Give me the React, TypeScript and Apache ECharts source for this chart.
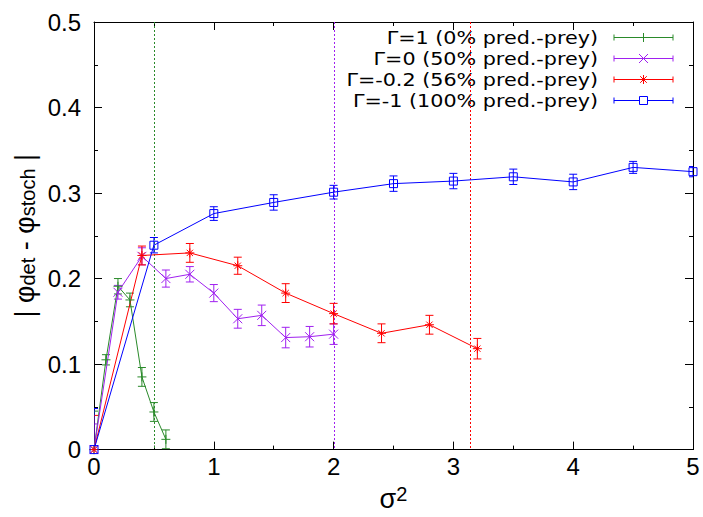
import React, { useEffect, useRef } from "react";
import * as echarts from "echarts";

const xGreen = [0, 0.1, 0.2, 0.3, 0.4, 0.5, 0.6];
const yGreen = [0, 0.105, 0.191, 0.175, 0.085, 0.044, 0.012];
const eGreen = [0.045, 0.006, 0.009, 0.008, 0.011, 0.011, 0.011];

const xPurple = [0, 0.2, 0.4, 0.6, 0.8, 1.0, 1.2, 1.4, 1.6, 1.8, 2.0];
const yPurple = [0, 0.184, 0.226, 0.2, 0.205, 0.183, 0.153, 0.157, 0.131, 0.132, 0.135];
const ePurple = [0.03, 0.008, 0.01, 0.01, 0.009, 0.01, 0.011, 0.012, 0.012, 0.012, 0.012];

const xRed = [0, 0.4, 0.8, 1.2, 1.6, 2.0, 2.4, 2.8, 3.2];
const yRed = [0, 0.227, 0.23, 0.215, 0.183, 0.159, 0.136, 0.146, 0.118];
const eRed = [0.04, 0.011, 0.011, 0.01, 0.011, 0.012, 0.011, 0.011, 0.012];

const xBlue = [0, 0.5, 1, 1.5, 2, 2.5, 3, 3.5, 4, 4.5, 5];
const yBlue = [0, 0.239, 0.276, 0.289, 0.301, 0.311, 0.314, 0.319, 0.313, 0.33, 0.325];
const eBlue = [0.048, 0.009, 0.008, 0.009, 0.008, 0.009, 0.009, 0.009, 0.009, 0.007, 0.006];

const legendNames = [
  "Γ=1 (0% pred.-prey)",
  "Γ=0 (50% pred.-prey)",
  "Γ=-0.2 (56% pred.-prey)",
  "Γ=-1 (100% pred.-prey)",
];
const vLines = [0.5, 2.0, 3.14];

const COLORS = ["#2a8a2a", "#a020f0", "#ff0000", "#0000ff"];
const PLUS = "path://M0,5L10,5M5,0L5,10";
const CROSS = "path://M0,0L10,10M10,0L0,10";
const STAR = "path://M0,5L10,5M5,0L5,10M1.5,1.5L8.5,8.5M8.5,1.5L1.5,8.5";
const SQUARE = "path://M0,0L10,0L10,10L0,10Z";
const SYMBOLS = [PLUS, CROSS, STAR, SQUARE];

const seriesData = [
  { x: xGreen, y: yGreen, e: eGreen },
  { x: xPurple, y: yPurple, e: ePurple },
  { x: xRed, y: yRed, e: eRed },
  { x: xBlue, y: yBlue, e: eBlue },
];

function legendMarker(i: number, cx: number, cy: number, c: string) {
  const s = 4.5;
  const ln = (x1: number, y1: number, x2: number, y2: number) => ({
    type: "line",
    shape: { x1, y1, x2, y2 },
    style: { stroke: c, lineWidth: 1 },
  });
  if (i === 0) return [ln(cx, cy - s, cx, cy + s)];
  if (i === 1) return [ln(cx - s, cy - s, cx + s, cy + s), ln(cx + s, cy - s, cx - s, cy + s)];
  if (i === 2)
    return [
      ln(cx - s, cy, cx + s, cy),
      ln(cx, cy - s, cx, cy + s),
      ln(cx - 3.3, cy - 3.3, cx + 3.3, cy + 3.3),
      ln(cx + 3.3, cy - 3.3, cx - 3.3, cy + 3.3),
    ];
  return [
    {
      type: "rect",
      shape: { x: cx - 4, y: cy - 4, width: 8, height: 8 },
      style: { stroke: c, fill: "#fff", lineWidth: 1 },
    },
  ];
}

export default function App() {
  const ref = useRef<HTMLDivElement>(null);
  useEffect(() => {
    if (!ref.current) return;
    const chart = echarts.init(ref.current, undefined, { renderer: "svg" });
    const font = "Liberation Sans";

    const series: any[] = [];
    // vertical dotted reference lines
    series.push({
      type: "custom",
      clip: true,
      z: 1,
      silent: true,
      data: vLines.map((v, k) => [v, k]),
      encode: { x: 0 },
      renderItem: (params: any, api: any) => {
        const v = api.value(0);
        const k = api.value(1);
        const top = api.coord([v, 0.5]);
        const bot = api.coord([v, 0]);
        const px = Math.round(top[0]) + 0.5;
        return {
          type: "line",
          shape: { x1: px, y1: top[1], x2: px, y2: bot[1] },
          style: { stroke: COLORS[k], lineWidth: 1, lineDash: [2, 2] },
        };
      },
    });
    seriesData.forEach((sd, i) => {
      const c = COLORS[i];
      series.push({
        type: "line",
        name: legendNames[i],
        data: sd.x.map((x, k) => [x, sd.y[k]]),
        symbol: SYMBOLS[i],
        symbolSize: i === 3 ? 8 : 9,
        showSymbol: true,
        lineStyle: { color: c, width: 1 },
        itemStyle: { color: i === 3 ? "rgba(255,255,255,0)" : c, borderColor: c, borderWidth: 1 },
        z: 3,
        clip: true,
      });
      series.push({
        type: "custom",
        clip: true,
        z: 2,
        data: sd.x.map((x, k) => [x, sd.y[k], sd.e[k]]),
        encode: { x: 0, y: 1 },
        renderItem: (params: any, api: any) => {
          const x = api.value(0);
          const y = api.value(1);
          const e = api.value(2);
          const top = api.coord([x, y + e]);
          const bot = api.coord([x, y - e]);
          const w = 4;
          const st = { stroke: c, lineWidth: 1 };
          return {
            type: "group",
            children: [
              { type: "line", shape: { x1: top[0], y1: top[1], x2: bot[0], y2: bot[1] }, style: st },
              { type: "line", shape: { x1: top[0] - w, y1: top[1], x2: top[0] + w, y2: top[1] }, style: st },
              { type: "line", shape: { x1: bot[0] - w, y1: bot[1], x2: bot[0] + w, y2: bot[1] }, style: st },
            ],
          };
        },
      });
    });

    const graphic: any[] = [];
    const rowY = [37.5, 58.5, 79.5, 100.5];
    legendNames.forEach((n, i) => {
      const c = COLORS[i];
      const y = rowY[i];
      graphic.push({
        type: "text",
        x: 598,
        y,
        scaleX: 1.15,
        style: {
          text: n,
          font: "18px 'DejaVu Sans'",
          lineHeight: 18,
          fill: "#000",
          align: "right",
          verticalAlign: "middle",
        },
      });
      graphic.push({ type: "line", shape: { x1: 614, y1: y, x2: 673, y2: y }, style: { stroke: c, lineWidth: 1 } });
      graphic.push({ type: "line", shape: { x1: 614, y1: y - 3, x2: 614, y2: y + 3 }, style: { stroke: c, lineWidth: 1 } });
      graphic.push({ type: "line", shape: { x1: 673, y1: y - 3, x2: 673, y2: y + 3 }, style: { stroke: c, lineWidth: 1 } });
      legendMarker(i, 643.5, y, c).forEach((g) => graphic.push(g));
    });

    const tickStyle = { lineStyle: { color: "#000", width: 1 } };
    chart.setOption({
      animation: false,
      backgroundColor: "#fff",
      grid: { left: 94, right: 10, top: 22, bottom: 57, containLabel: false },
      xAxis: [
        {
          type: "value",
          min: 0,
          max: 5,
          interval: 1,
          position: "bottom",
          axisLine: { show: true, onZero: false, lineStyle: { color: "#000", width: 1 } },
          axisTick: { show: true, inside: true, length: 8, ...tickStyle },
          minorTick: { show: true, splitNumber: 2, length: 4, ...tickStyle },
          splitLine: { show: false },
          axisLabel: { color: "#000", fontFamily: font, fontSize: 24, margin: 5 },
          name: "{a|σ}{s|2}",
          nameLocation: "middle",
          nameGap: 22,
          nameTextStyle: {
            rich: {
              a: { fontFamily: font, fontSize: 27, color: "#000" },
              s: { fontFamily: font, fontSize: 20, color: "#000", verticalAlign: "top", padding: [0, 0, 10, 0] },
            },
          },
        },
        {
          type: "value",
          min: 0,
          max: 5,
          interval: 1,
          position: "top",
          axisLine: { show: true, onZero: false, lineStyle: { color: "#000", width: 1 } },
          axisTick: { show: true, inside: true, length: 8, ...tickStyle },
          minorTick: { show: true, splitNumber: 2, length: 4, ...tickStyle },
          splitLine: { show: false },
          axisLabel: { show: false },
        },
      ],
      yAxis: [
        {
          type: "value",
          min: 0,
          max: 0.5,
          interval: 0.1,
          position: "left",
          axisLine: { show: true, onZero: false, lineStyle: { color: "#000", width: 1 } },
          axisTick: { show: true, inside: true, length: 8, ...tickStyle },
          minorTick: { show: true, splitNumber: 2, length: 4, ...tickStyle },
          splitLine: { show: false },
          axisLabel: {
            color: "#000",
            fontFamily: font,
            fontSize: 24,
            margin: 13,
            formatter: (v: number) => (v === 0 ? "0" : v.toFixed(1)),
          },
          name: "{a|| φ}{s|det}{a| - φ}{s|stoch}{a| |}",
          nameLocation: "middle",
          nameGap: 56,
          nameMoveOverlap: false,
          nameRotate: 90,
          nameTextStyle: {
            rich: {
              a: { fontFamily: font, fontSize: 27, color: "#000" },
              s: { fontFamily: font, fontSize: 20, color: "#000", verticalAlign: "bottom", padding: [6, 0, 0, 0] },
            },
          },
        },
        {
          type: "value",
          min: 0,
          max: 0.5,
          interval: 0.1,
          position: "right",
          axisLine: { show: true, onZero: false, lineStyle: { color: "#000", width: 1 } },
          axisTick: { show: true, inside: true, length: 8, ...tickStyle },
          minorTick: { show: true, splitNumber: 2, length: 4, ...tickStyle },
          splitLine: { show: false },
          axisLabel: { show: false },
        },
      ],
      series,
      graphic,
    });
    return () => chart.dispose();
  }, []);
  return <div ref={ref} style={{ width: 703, height: 517, position: "absolute", left: 0, top: 0 }} />;
}
